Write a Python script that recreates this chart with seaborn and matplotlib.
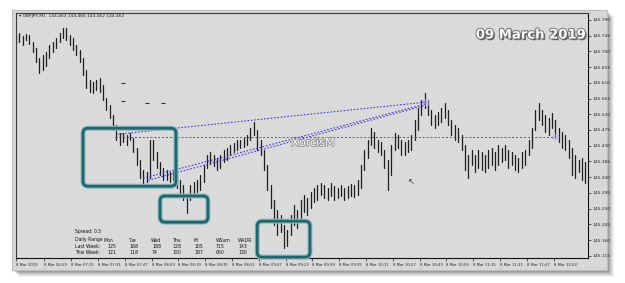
import numpy as np
import pandas as pd
import matplotlib
matplotlib.use("Agg")
import matplotlib.pyplot as plt
import seaborn as sns
from matplotlib.patches import FancyBboxPatch, Rectangle
from matplotlib.transforms import IdentityTransform
import matplotlib.patheffects as pe

# ---------------- data (GBPJPY M1, 8 Mar 2019, sampled every 2 minutes) ----------------
# minutes after 06:42
bar_minutes = list(range(0, 342, 2))
highs = [
    145.747, 145.753, 145.744, 145.750, 145.747, 145.727, 145.710, 145.681, 145.690, 145.698,
    145.718, 145.727, 145.738, 145.753, 145.767, 145.767, 145.747, 145.738, 145.718, 145.704,
    145.681, 145.647, 145.618, 145.612, 145.618, 145.624, 145.604, 145.566, 145.546, 145.518,
    145.489, 145.466, 145.466, 145.460, 145.466, 145.452, 145.423, 145.389, 145.360, 145.354,
    145.446, 145.446, 145.412, 145.383, 145.366, 145.360, 145.354, 145.360, 145.346, 145.331,
    145.317, 145.288, 145.317, 145.326, 145.331, 145.346, 145.374, 145.403, 145.412, 145.403,
    145.395, 145.403, 145.417, 145.423, 145.432, 145.437, 145.446, 145.446, 145.452, 145.460,
    145.480, 145.498, 145.475, 145.446, 145.417, 145.374, 145.317, 145.274, 145.245, 145.231,
    145.202, 145.188, 145.231, 145.260, 145.245, 145.274, 145.288, 145.280, 145.297, 145.309,
    145.317, 145.323, 145.317, 145.309, 145.323, 145.314, 145.309, 145.317, 145.309, 145.314,
    145.320, 145.317, 145.331, 145.374, 145.417, 145.446, 145.480, 145.469, 145.446, 145.440,
    145.417, 145.389, 145.432, 145.466, 145.460, 145.446, 145.440, 145.446, 145.460, 145.503,
    145.538, 145.561, 145.581, 145.561, 145.532, 145.518, 145.526, 145.538, 145.552, 145.532,
    145.503, 145.489, 145.480, 145.460, 145.432, 145.403, 145.417, 145.403, 145.417, 145.412,
    145.403, 145.417, 145.423, 145.412, 145.432, 145.423, 145.432, 145.417, 145.412, 145.403,
    145.395, 145.412, 145.417, 145.446, 145.480, 145.532, 145.552, 145.532, 145.518, 145.509,
    145.523, 145.503, 145.480, 145.469, 145.460, 145.446, 145.423, 145.403, 145.389, 145.395,
    145.383,
]
lows = [
    145.721, 145.727, 145.718, 145.733, 145.721, 145.698, 145.670, 145.638, 145.647, 145.658,
    145.681, 145.698, 145.710, 145.727, 145.738, 145.733, 145.718, 145.704, 145.690, 145.670,
    145.632, 145.595, 145.584, 145.581, 145.589, 145.584, 145.561, 145.532, 145.509, 145.475,
    145.446, 145.432, 145.440, 145.432, 145.446, 145.412, 145.374, 145.337, 145.323, 145.326,
    145.337, 145.389, 145.366, 145.346, 145.331, 145.331, 145.326, 145.331, 145.309, 145.288,
    145.274, 145.237, 145.274, 145.288, 145.297, 145.303, 145.326, 145.366, 145.377, 145.372,
    145.360, 145.366, 145.383, 145.389, 145.403, 145.412, 145.417, 145.423, 145.426, 145.432,
    145.446, 145.460, 145.417, 145.403, 145.360, 145.303, 145.251, 145.202, 145.174, 145.182,
    145.137, 145.142, 145.174, 145.202, 145.194, 145.223, 145.240, 145.231, 145.251, 145.268,
    145.274, 145.288, 145.280, 145.274, 145.286, 145.274, 145.280, 145.286, 145.274, 145.280,
    145.286, 145.283, 145.288, 145.309, 145.360, 145.395, 145.432, 145.423, 145.412, 145.403,
    145.366, 145.303, 145.346, 145.417, 145.423, 145.403, 145.403, 145.412, 145.417, 145.446,
    145.475, 145.518, 145.538, 145.518, 145.489, 145.480, 145.489, 145.498, 145.509, 145.489,
    145.460, 145.446, 145.440, 145.417, 145.360, 145.337, 145.374, 145.354, 145.366, 145.360,
    145.354, 145.366, 145.374, 145.360, 145.374, 145.383, 145.389, 145.366, 145.374, 145.360,
    145.354, 145.366, 145.374, 145.403, 145.423, 145.475, 145.503, 145.489, 145.469, 145.460,
    145.480, 145.452, 145.440, 145.423, 145.417, 145.395, 145.346, 145.337, 145.354, 145.331,
    145.323,
]

y_ticks = [145.115, 145.160, 145.205, 145.250, 145.295, 145.340, 145.385, 145.430,
           145.475, 145.520, 145.565, 145.610, 145.655, 145.700, 145.745, 145.790]
x_labels = ["8 Mar 2019", "8 Mar 06:59", "8 Mar 07:15", "8 Mar 07:31", "8 Mar 07:47",
            "8 Mar 08:03", "8 Mar 08:19", "8 Mar 08:35", "8 Mar 08:51", "8 Mar 09:07",
            "8 Mar 09:23", "8 Mar 09:39", "8 Mar 09:55", "8 Mar 10:11", "8 Mar 10:27",
            "8 Mar 10:43", "8 Mar 10:59", "8 Mar 11:15", "8 Mar 11:31", "8 Mar 11:47",
            "8 Mar 12:03"]
start_clock = (6, 42)

# drawn objects: (t0, t1, price0, price1)
trend_lines = [(61, 245, 145.463, 145.555),
               (76, 244, 145.337, 145.549),
               (79, 244, 145.331, 145.545)]
hline = (59, 322, 145.455)
boxes = [(40, 95.5, 145.314, 145.480),
         (86, 114.6, 145.211, 145.286),
         (144, 175.5, 145.111, 145.214)]
dash_marks_t = [64, 64, 78, 88]
dash_marks_p = [145.609, 145.558, 145.552, 145.552]

days = ["Mon", "Tue", "Wed", "Thu", "Fri", "WSum", "WADR"]
last_week = [125, 168, 188, 128, 105, 715, 143]
this_week = [121, 118, 74, 150, 187, 650, 130]
spread = 0.5

# ---------------- figure ----------------
sns.set_style("white")
plt.rcParams["font.family"] = ["DejaVu Sans"]
W, H = 625, 283
fig = plt.figure(figsize=(W / 100, H / 100), dpi=100, facecolor="white")

def fx(px):
    return px / W

def fy(py):
    return 1 - py / H

# window drop shadow and panel (behind the axes)
for i, a in enumerate([0.05, 0.06, 0.07, 0.08, 0.09, 0.10]):
    off = 7 - i
    fig.patches.append(Rectangle((fx(12 + off), fy(270 + off)), fx(595), 260 / H,
                                 transform=fig.transFigure, facecolor="black",
                                 alpha=a, edgecolor="none", zorder=-5))
fig.patches.append(Rectangle((fx(12), fy(270)), fx(595), 260 / H, transform=fig.transFigure,
                             facecolor="#d8d8d8", edgecolor="#bdbdbd", lw=0.8, zorder=-4))

ax = fig.add_axes([fx(16), fy(258), fx(588) - fx(16), (258 - 13) / H])
ax.set_zorder(1)
ax.set_facecolor("#dadada")

rows = []
for i, (t, h, l) in enumerate(zip(bar_minutes, highs, lows)):
    rows.append({"t": t, "price": l, "bar": i})
    rows.append({"t": t, "price": h, "bar": i})
df = pd.DataFrame(rows)
sns.lineplot(data=df, x="t", y="price", units="bar", estimator=None, sort=False,
             color="#1e1e1e", lw=0.9, ax=ax, legend=False)

ax.set_xlim(0, 341.5)
ax.set_ylim(145.1085, 145.810)

# trend lines
line_col = "#3434e0"
for t0, t1, p0, p1 in trend_lines:
    ax.plot([t0, t1], [p0, p1], ls=(0, (1.6, 1.6)), color=line_col, lw=0.75, zorder=3)
ax.plot([hline[0], hline[1]], [hline[2], hline[2]], ls=(0, (2.0, 2.0)), color=line_col,
        lw=0.7, zorder=3, alpha=0.85)
ax.scatter([hline[1]], [hline[2]], s=30, color="#b8b8e8", alpha=0.6, zorder=2, lw=0)
ax.scatter([trend_lines[0][1]], [trend_lines[0][3]], s=30, color="#b8b8e8", alpha=0.6,
           zorder=2, lw=0)
ax.scatter(dash_marks_t, dash_marks_p, marker="_", s=12, color="#333333", lw=0.8, zorder=3)

# axes style
for s in ["left", "top"]:
    ax.spines[s].set_color("#3a3a3a")
    ax.spines[s].set_linewidth(0.8)
for s in ["right", "bottom"]:
    ax.spines[s].set_color("#111111")
    ax.spines[s].set_linewidth(0.8)
ax.yaxis.tick_right()
ax.set_yticks(y_ticks)
ax.set_yticklabels([f"{v:.3f}" for v in y_ticks])
x_pos = [0]
for lab in x_labels[1:]:
    hh, mm = lab.split()[-1].split(":")
    x_pos.append(int(hh) * 60 + int(mm) - (start_clock[0] * 60 + start_clock[1]))
ax.set_xticks(x_pos)
ax.set_xticklabels(x_labels, ha="left")
ax.tick_params(axis="y", labelsize=3.2, length=2, width=0.5, pad=1, colors="#222222",
               direction="out", right=True, left=False)
ax.tick_params(axis="x", labelsize=2.7, length=2, width=0.5, pad=1.5, colors="#222222",
               direction="out", bottom=True)
ax.set_xlabel("")
ax.set_ylabel("")
ax.grid(False)

# teal boxes drawn in display pixels from data corners
fig.canvas.draw()
for t0, t1, p0, p1 in boxes:
    (x0, y0) = ax.transData.transform((t0, p0))
    (x1, y1) = ax.transData.transform((t1, p1))
    glow = FancyBboxPatch((x0, y0), x1 - x0, y1 - y0, boxstyle="round,pad=0,rounding_size=5",
                          transform=IdentityTransform(), facecolor="none",
                          edgecolor="#8fb8bc", lw=3.6, zorder=4, clip_on=False)
    fig.patches.append(glow)
    box = FancyBboxPatch((x0, y0), x1 - x0, y1 - y0, boxstyle="round,pad=0,rounding_size=5",
                         transform=IdentityTransform(), facecolor="none",
                         edgecolor="#1c666e", lw=2.0, zorder=5, clip_on=False)
    fig.patches.append(box)

# texts
fig.text(fx(19), fy(16.5), "\u25be GBPJPY,M1  144.463 144.466 144.462 144.462", fontsize=3.2,
         color="#222222", va="center", ha="left", zorder=10)
fig.text(fx(531), fy(35), "09 March 2019", fontsize=9.5, fontweight="bold", color="white",
         ha="center", va="center", zorder=10,
         path_effects=[pe.withSimplePatchShadow(offset=(1.2, -1.2), shadow_rgbFace="black",
                                                alpha=0.55),
                       pe.Stroke(linewidth=1.3, foreground="#6a6a6a"), pe.Normal()])
fig.text(fx(313), fy(143), "XorcisM", fontsize=8, color="white", ha="center", va="center",
         zorder=10,
         path_effects=[pe.Stroke(linewidth=1.1, foreground="#8a8a8a"), pe.Normal()])

fs = 3.3
fig.text(fx(75), fy(231), f"Spread: {spread}", fontsize=fs, color="#111111", va="center", zorder=10)
fig.text(fx(75), fy(240), "Daily Range", fontsize=fs, color="#111111", va="center", zorder=10)
fig.text(fx(75), fy(246), "Last Week:", fontsize=fs, color="#111111", va="center", zorder=10)
fig.text(fx(75), fy(252), "This Week:", fontsize=fs, color="#111111", va="center", zorder=10)
hdr_x = [103.5, 128, 151, 172, 194, 216, 238]
val_x = [107, 129, 152, 172, 194, 216, 238]
for d, hx, vx, lw_, tw in zip(days, hdr_x, val_x, last_week, this_week):
    fig.text(fx(hx), fy(240), d, fontsize=fs, color="#111111", va="center", zorder=10)
    fig.text(fx(vx), fy(246), str(lw_), fontsize=fs, color="#111111", va="center", zorder=10)
    fig.text(fx(vx), fy(252), str(tw), fontsize=fs, color="#111111", va="center", zorder=10)

# mouse cursor
fig.text(fx(411), fy(182), "\u2196", fontsize=6, color="#333333", ha="center", va="center",
         zorder=10)

fig.savefig("out.png", dpi=100, facecolor="white")
